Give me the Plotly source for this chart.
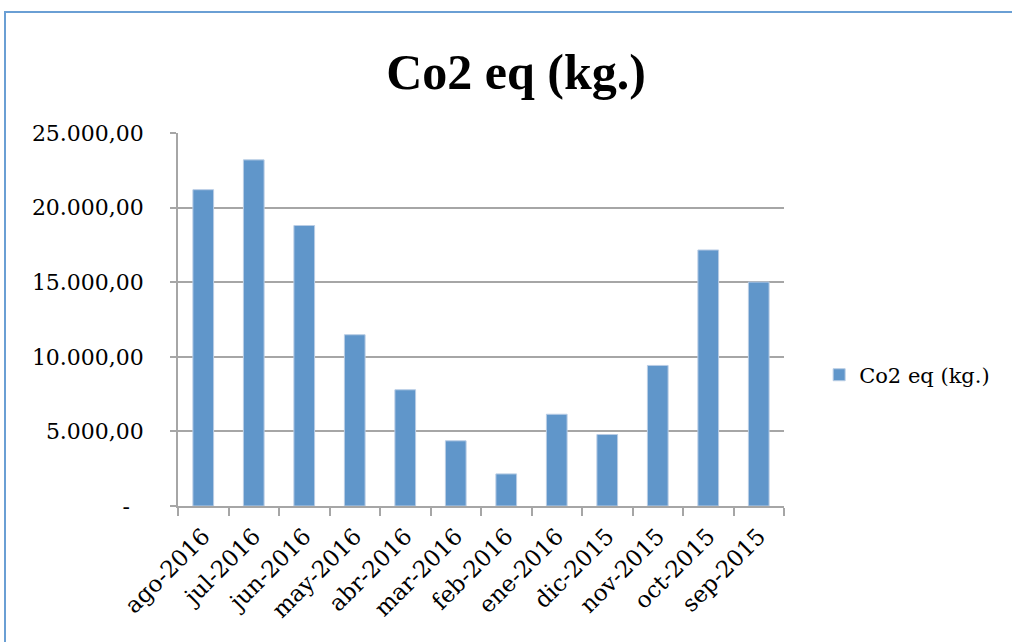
import plotly.graph_objects as go

categories = ["ago-2016", "jul-2016", "jun-2016", "may-2016", "abr-2016", "mar-2016",
              "feb-2016", "ene-2016", "dic-2015", "nov-2015", "oct-2015", "sep-2015"]
values = [21200, 23200, 18800, 11480, 7790, 4370, 2150, 6150, 4790, 9420, 17160, 15010]
series_name = "Co2 eq (kg.)"
y_tickvals = [0, 5000, 10000, 15000, 20000, 25000]
y_ticktext = ["-\u00a0\u00a0", "5.000,00", "10.000,00", "15.000,00", "20.000,00", "25.000,00"]

serif = "DejaVu Serif"
grid = "#A6A6A6"

L, T = 178, 133
PW, PH = 606, 373

fig = go.Figure()
fig.add_trace(go.Bar(
    x=categories, y=values, name=series_name,
    marker=dict(color="#6096CA", line=dict(color="#B9CDE5", width=1)),
    width=0.41, showlegend=True,
))

fig.update_layout(
    width=1012, height=642,
    margin=dict(l=L, r=1012 - L - PW, t=T, b=642 - T - PH),
    paper_bgcolor="white", plot_bgcolor="white",
    title=dict(text="<b>Co2 eq (kg.)</b>", x=516/1012, xanchor="center",
               y=1 - 71/642, yanchor="middle", yref="container", xref="container",
               font=dict(family="Liberation Serif", size=50, color="black")),
    font=dict(family=serif, color="black"),
    legend=dict(x=1.058, xanchor="left", y=0.351, yanchor="middle",
                font=dict(family=serif, size=21, color="black"),
                bgcolor="rgba(0,0,0,0)", itemwidth=30),
    bargap=0.59,
    shapes=[dict(type="rect", xref="paper", yref="paper",
                 x0=(5 - L)/PW, x1=2.5, y0=-1.5, y1=(506 - 12)/PH,
                 line=dict(color="#6A9FD4", width=2), fillcolor="rgba(0,0,0,0)", layer="below")],
)

fig.update_xaxes(
    type="category", tickangle=-45, tickson="boundaries",
    ticks="outside", ticklen=8, tickcolor=grid, tickwidth=1.5,
    showline=True, linecolor=grid, linewidth=1.5,
    showgrid=False, tickfont=dict(family=serif, size=23, color="black"),
    ticklabelstandoff=6,
)
fig.update_yaxes(
    range=[0, 25000], tickvals=y_tickvals, ticktext=y_ticktext,
    ticks="outside", ticklen=6, tickcolor=grid, tickwidth=1.5,
    showline=True, linecolor=grid, linewidth=1.5,
    showgrid=True, gridcolor=grid, gridwidth=1.5, zeroline=False,
    tickfont=dict(family=serif, size=22, color="black"),
    ticklabelstandoff=22,
)

fig.write_html("out.html", config={"displayModeBar": False},
               post_script="document.body.style.margin='0';document.body.style.overflow='hidden';")
